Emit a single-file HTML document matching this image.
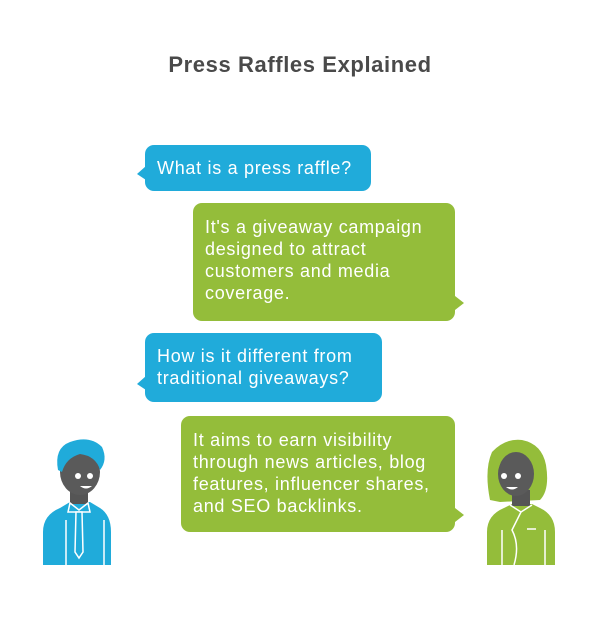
<!DOCTYPE html>
<html><head><style>
body{margin:0;width:600px;height:618px;background:#fff;position:relative;font-family:"Liberation Sans",Arial,sans-serif;overflow:hidden}
.t{position:absolute;top:52px;left:0;width:600px;text-align:center;font-size:22px;letter-spacing:0.6px;font-weight:bold;color:#4a4a4a}
.b{position:absolute;border-radius:9px;color:#fff;font-size:18px;letter-spacing:0.7px;line-height:22px;box-sizing:border-box;padding:0 12px;white-space:nowrap}
.bl{background:#20abda}.gr{background:#94bd3a}
</style></head><body>
<div class="t">Press Raffles Explained</div>
<svg width="600" height="618" style="position:absolute;left:0;top:0">
<polygon points="146,166 137,174 146,180" fill="#20abda"/>
<polygon points="455,296 464,303 455,310" fill="#94bd3a"/>
<polygon points="146,376 137,384 146,390" fill="#20abda"/>
<polygon points="455,508 464,515 455,522" fill="#94bd3a"/>
<!-- man -->
<path d="M43,565 L43,532 Q43,515 60,508 L70,502 L90,502 L100,508 Q111,515 111,532 L111,565Z" fill="#20abda"/>
<path d="M66,565 V520 M104,565 V520" stroke="#fff" stroke-width="1.5" fill="none"/>
<rect x="70" y="490" width="18" height="14" fill="#555"/>
<path d="M70,503 L79,510 L88,503 L90,512 L79,512 L68,512Z" fill="#20abda" stroke="#fff" stroke-width="1.5"/>
<path d="M76,512 L82,512 L83,552 L79,558 L75,552Z" fill="#20abda" stroke="#fff" stroke-width="1.5"/>
<ellipse cx="80" cy="472" rx="20" ry="23" fill="#5a5a5a"/>
<path d="M58,470 Q54,448 70,442 Q90,435 102,447 Q108,460 100,470 Q96,456 80,454 Q66,458 62,472Z" fill="#20abda"/>
<circle cx="78" cy="476" r="3" fill="#fff"/><circle cx="90" cy="476" r="3" fill="#fff"/>
<path d="M80,486 Q86,491 92,486Z" fill="#fff"/>
<!-- woman -->
<path d="M490,500 Q484,470 492,452 Q505,438 522,440 Q542,444 546,465 Q550,490 540,500 L500,502Z" fill="#94bd3a"/>
<path d="M487,565 L487,532 Q487,515 504,508 L512,504 L532,504 L540,508 Q555,515 555,532 L555,565Z" fill="#94bd3a"/>
<rect x="512" y="490" width="18" height="16" fill="#555"/>
<ellipse cx="516" cy="474" rx="18" ry="22" fill="#5a5a5a"/>
<path d="M498,470 Q498,452 515,450 Q530,448 534,465 L536,478 Q540,470 530,455 Q520,444 505,450 Z" fill="#94bd3a"/>
<path d="M510,505 L521,512 L532,505 M521,512 L512,530 Q520,545 514,565 M527,529 H536 M502,530 V565 M545,530 V565" stroke="#fff" stroke-width="1.5" fill="none"/>
<circle cx="504" cy="476" r="3" fill="#fff"/><circle cx="518" cy="476" r="3" fill="#fff"/>
<path d="M506,487 Q512,492 518,487Z" fill="#fff"/>
</svg>
<div class="b bl" style="left:145px;top:145px;width:226px;height:46px;padding-top:12px">What is a press raffle?</div>
<div class="b gr" style="left:193px;top:203px;width:262px;height:118px;padding-top:13px">It's a giveaway campaign<br>designed to attract<br>customers and media<br>coverage.</div>
<div class="b bl" style="left:145px;top:333px;width:237px;height:69px;padding-top:12px">How is it different from<br>traditional giveaways?</div>
<div class="b gr" style="left:181px;top:416px;width:274px;height:116px;padding-top:13px">It aims to earn visibility<br>through news articles, blog<br>features, influencer shares,<br>and SEO backlinks.</div>
</body></html>
